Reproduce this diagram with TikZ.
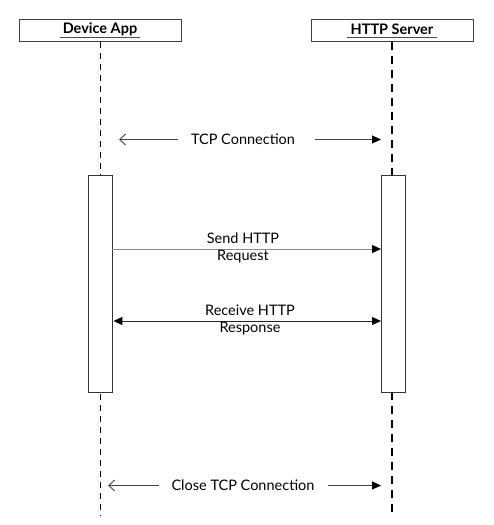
\documentclass[tikz,border=0pt]{standalone}
\usepackage{fontspec}
\setmainfont{Lato}
\usetikzlibrary{arrows.meta}
\definecolor{linegray}{HTML}{444444}
\definecolor{sendgray}{HTML}{8A8A8A}
\tikzset{
  actorbox/.style={draw=black!75, line width=0.9pt, minimum width=162pt, minimum height=22pt, inner sep=0pt},
  actortext/.style={font=\fontsize{14.5}{15}\selectfont\bfseries, inner sep=0pt},
  activation/.style={draw=black!80, line width=0.9pt, fill=white, minimum width=24pt, inner sep=0pt},
  lifeleft/.style={draw=black, line width=0.7pt, dash pattern=on 6pt off 5pt},
  liferight/.style={draw=black, line width=1.6pt, dash pattern=on 8pt off 6pt},
  msg/.style={font=\fontsize{14.5}{17}\selectfont, inner sep=0pt, align=center},
  openhead/.style={draw=linegray, line width=0.9pt, -{Straight Barb[length=6pt,width=11pt,line width=0.9pt]}},
  filledhead/.style={draw=linegray, line width=0.9pt, -{Triangle[length=9pt,width=8pt,color=black]}},
}
\begin{document}
\begin{tikzpicture}[x=1pt,y=-1pt]
\useasboundingbox (0,0) rectangle (494,525);
% actor boxes
\node[actorbox] (devbox) at (100,30.5) {};
\node[actorbox] (srvbox) at (392,30.5) {};
\node[actortext] (devlbl) at (100,29.5) {Device App};
\node[actortext] (srvlbl) at (392,29.5) {HTTP Server};
\draw[black!70, line width=0.9pt] ([xshift=-3pt]devlbl.south west |- 0,37.5) -- ([xshift=3pt]devlbl.south east |- 0,37.5);
\draw[black!70, line width=0.9pt] ([xshift=-3pt]srvlbl.south west |- 0,37.5) -- ([xshift=3pt]srvlbl.south east |- 0,37.5);
% lifelines
\coordinate (devend) at (100,516);
\coordinate (srvend) at (392,512);
\draw[lifeleft] (devbox.south) -- (devend);
\draw[liferight] (srvbox.south) -- (srvend);
% activations
\node[activation, minimum height=217pt] (devact) at (100,284) {};
\node[activation, minimum height=217pt] (srvact) at (393,284) {};
% TCP connection
\node[msg] (tcp) at (243,139.5) {TCP Connection};
\coordinate (tcpL) at (119,139.5);
\coordinate (tcpR) at (381,139.5);
\draw[openhead] ([xshift=-13pt]tcp.west) -- (tcpL);
\draw[filledhead] ([xshift=20pt]tcp.east) -- (tcpR);
% Send HTTP request
\coordinate (sendR) at (381,249);
\draw[draw=sendgray, line width=1pt, -{Triangle[length=9pt,width=8pt,color=black]}] (devact.east |- sendR) -- (sendR);
\node[msg] (send1) at (243,238.5) {Send HTTP};
\node[msg] (send2) at (243,257) {Request};
% Receive HTTP response
\coordinate (recvR) at (381,321);
\draw[draw=black!85, line width=1pt, {Triangle[length=9pt,width=8pt,color=black]}-{Triangle[length=9pt,width=8pt,color=black]}] ([xshift=1pt]devact.east |- recvR) -- (recvR);
\node[msg] (recv1) at (250,310) {Receive HTTP};
\node[msg] (recv2) at (250,328.5) {Response};
% Close TCP connection
\node[msg] (close) at (243,485.5) {Close TCP Connection};
\coordinate (closeL) at (108,485.5);
\coordinate (closeR) at (381,485.5);
\draw[openhead] ([xshift=-12pt]close.west) -- (closeL);
\draw[filledhead] ([xshift=13pt]close.east) -- (closeR);
\end{tikzpicture}
\end{document}
